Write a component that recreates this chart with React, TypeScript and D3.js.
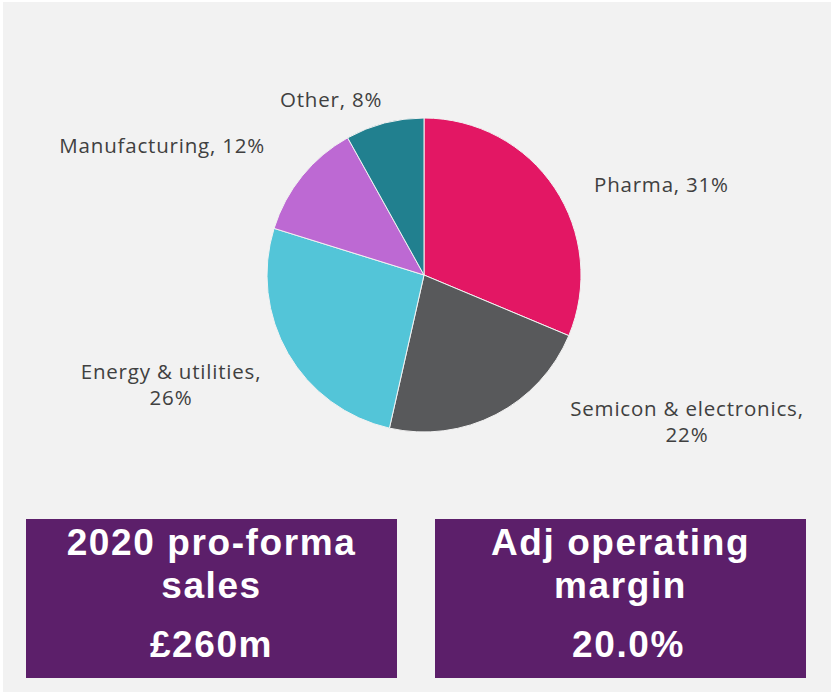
import React, { useEffect, useRef } from 'react';
import * as d3 from 'd3';

const categories = ['Pharma', 'Semicon & electronics', 'Energy & utilities', 'Manufacturing', 'Other'];
const shares = [31, 22, 26, 12, 8];
const colors = ['#e31764', '#58595b', '#53c5d8', '#bd69d3', '#21808f'];
// label lines as shown on the chart
const labelLines = [
  ['Pharma, 31%'],
  ['Semicon & electronics,', '22%'],
  ['Energy & utilities,', '26%'],
  ['Manufacturing, 12%'],
  ['Other, 8%'],
];
const kpiTitles = [['2020 pro-forma', 'sales'], ['Adj operating', 'margin']];
const kpiValues = ['£260m', '20.0%'];

// label layout (anchor point, alignment)
const labelLayout = [
  { x: 594, y: 192, anchor: 'start' },
  { x: 687, y: 416, anchor: 'middle' },
  { x: 171, y: 379, anchor: 'middle' },
  { x: 265, y: 153, anchor: 'end' },
  { x: 280, y: 107, anchor: 'start' },
];

const W = 833;
const H = 692;

const App: React.FC = () => {
  const ref = useRef<SVGSVGElement>(null);

  useEffect(() => {
    document.body.style.margin = '0';
    const svg = d3.select(ref.current);
    svg.html('');

    svg.append('rect').attr('width', W).attr('height', H).attr('fill', '#ffffff');
    svg.append('rect').attr('x', 3).attr('y', 2).attr('width', 828).attr('height', H - 2).attr('fill', '#f2f2f2');

    const cx = 424;
    const cy = 275;
    const r = 157;

    const pie = d3.pie<number>().sort(null).value(d => d);
    const arc = d3.arc<d3.PieArcDatum<number>>().innerRadius(0).outerRadius(r);

    const g = svg.append('g').attr('transform', `translate(${cx},${cy})`);
    g.selectAll('path')
      .data(pie(shares))
      .enter()
      .append('path')
      .attr('d', arc)
      .attr('fill', (d, i) => colors[i])
      .attr('stroke', '#f2f2f2')
      .attr('stroke-width', 1);

    const labels = svg.append('g')
      .style('font-family', '"Open Sans", sans-serif')
      .style('font-size', '20.5px')
      .style('letter-spacing', '0.8px')
      .attr('fill', '#404040');

    categories.forEach((c, i) => {
      const pos = labelLayout[i];
      const t = labels.append('text')
        .attr('x', pos.x)
        .attr('y', pos.y)
        .attr('text-anchor', pos.anchor);
      labelLines[i].forEach((line, j) => {
        t.append('tspan')
          .attr('x', pos.x)
          .attr('dy', j === 0 ? 0 : 26)
          .text(line);
      });
    });

    // KPI boxes
    const boxes = [
      { x: 26, y: 519, w: 371, h: 159, valueDx: 0 },
      { x: 435, y: 519, w: 371, h: 159, valueDx: 8 },
    ];
    boxes.forEach((b, i) => {
      const bg = svg.append('g');
      bg.append('rect')
        .attr('x', b.x).attr('y', b.y)
        .attr('width', b.w).attr('height', b.h)
        .attr('fill', '#5c1f6a');
      const mid = b.x + b.w / 2;
      const txt = bg.append('g')
        .attr('fill', '#ffffff')
        .attr('text-anchor', 'middle')
        .style('font-family', '"Liberation Sans", Arial, sans-serif')
        .style('font-weight', 700)
        .style('font-size', '37px')
        .style('letter-spacing', '1.6px');
      kpiTitles[i].forEach((line, j) => {
        txt.append('text')
          .attr('x', mid)
          .attr('y', 555 + j * 43)
          .text(line);
      });
      txt.append('text')
        .attr('x', mid + b.valueDx)
        .attr('y', 657)
        .text(kpiValues[i]);
    });
  }, []);

  return <svg ref={ref} width={W} height={H} style={{ display: 'block' }}></svg>;
};

export default App;
